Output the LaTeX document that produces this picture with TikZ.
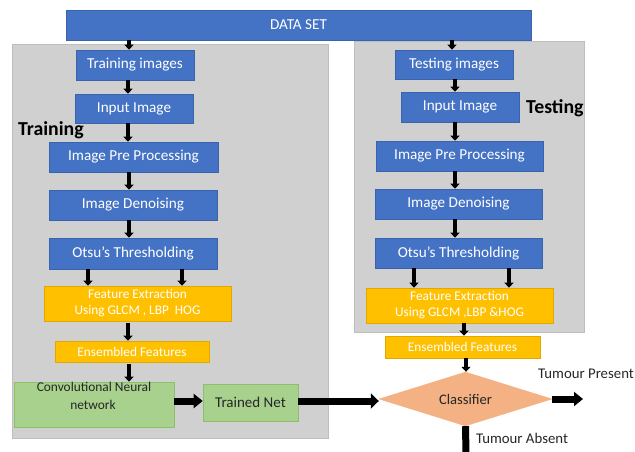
\documentclass[tikz,border=0pt]{standalone}
\usepackage{fontspec}
\setmainfont{Carlito}
\usetikzlibrary{shapes.geometric,arrows.meta}
\definecolor{bblue}{HTML}{4472C4}
\definecolor{bblueb}{HTML}{3A63AD}
\definecolor{byel}{HTML}{FFC000}
\definecolor{byelb}{HTML}{E0A800}
\definecolor{bgreen}{HTML}{A9D18E}
\definecolor{bgreenb}{HTML}{8CC06C}
\definecolor{bsal}{HTML}{F4B183}
\definecolor{panel}{HTML}{D0D0D0}
\definecolor{panelb}{HTML}{BEBEBE}
\definecolor{dtext}{HTML}{262626}
\tikzset{
  bbox/.style={draw=bblueb, fill=bblue, text=white, inner sep=0pt, line width=0.6pt, font=\fontsize{15.2}{17}\selectfont},
  ybox/.style={draw=byelb, fill=byel, text=white, inner sep=0pt, line width=0.6pt, font=\fontsize{13.3}{16}\selectfont, align=center},
  gbox/.style={draw=bgreenb, fill=bgreen, text=dtext, inner sep=0pt, line width=0.6pt, font=\fontsize{15}{17}\selectfont, align=center},
  arr/.style={line width=3.2pt, -{Triangle[width=9pt,length=5pt]}},
  bigarr/.style={line width=7pt, -{Triangle[width=15pt,length=8pt]}},
  lbl/.style={font=\fontsize{14.8}{17}\selectfont, text=dtext, inner sep=0pt},
  sect/.style={font=\bfseries\fontsize{19.8}{22}\selectfont, inner sep=0pt}
}
\begin{document}
\begin{tikzpicture}[x=1pt,y=-1pt]
\useasboundingbox (0,0) rectangle (635,452);
% panels
\draw[panelb, fill=panel, line width=0.8pt] (12,44) rectangle (328,438);
\draw[panelb, fill=panel, line width=0.8pt] (354,41) rectangle (584,332);
% dataset
\node[bbox, minimum width=465pt, minimum height=30pt] (ds) at (298.5,25) {DATA SET};
% left column
\node[bbox, minimum width=118pt, minimum height=30pt] (ti) at (135,65) {Training images};
\node[bbox, minimum width=118pt, minimum height=29pt] (ii) at (134,108.5) {Input Image};
\node[bbox, minimum width=169pt, minimum height=30pt] (ipp) at (133.5,157) {Image Pre Processing};
\node[bbox, minimum width=168pt, minimum height=30pt] (idn) at (133,205) {Image Denoising};
\node[bbox, minimum width=168pt, minimum height=31pt] (ot) at (133,253.5) {Otsu's Thresholding};
\node[ybox, minimum width=187pt, minimum height=35pt] (fe) at (137.5,303.5) {Feature Extraction\\Using GLCM , LBP\ \ HOG};
\node[ybox, minimum width=154pt, minimum height=21pt] (ef) at (132,351.5) {Ensembled Features};
\node[gbox, minimum width=160pt, minimum height=45pt] (cnn) at (94,404.5) {};
\node[lbl, font=\fontsize{13.4}{15}\selectfont] (cnnt1) at (94,387) {Convolutional Neural};
\node[lbl, font=\fontsize{13.4}{15}\selectfont] (cnnt2) at (93,404.5) {network};
\node[gbox, minimum width=95pt, minimum height=37pt] (tn) at (250.5,402.5) {Trained Net};
\node[sect, anchor=west] (trl) at (18,130) {Training};
% right column
\node[bbox, minimum width=118pt, minimum height=29pt] (tsi) at (454,64.5) {Testing images};
\node[bbox, minimum width=118pt, minimum height=30pt] (rii) at (460,107) {Input Image};
\node[bbox, minimum width=167pt, minimum height=30pt] (ripp) at (459.5,156) {Image Pre Processing};
\node[bbox, minimum width=167pt, minimum height=30pt] (rid) at (458.5,204) {Image Denoising};
\node[bbox, minimum width=167pt, minimum height=30pt] (rot) at (458.5,253) {Otsu's Thresholding};
\node[ybox, minimum width=187pt, minimum height=35pt] (rfe) at (459.5,305.5) {Feature Extraction\\Using GLCM ,LBP \&HOG};
\node[ybox, minimum width=155pt, minimum height=22pt] (ref) at (462.5,347) {Ensembled Features};
\node[diamond, fill=bsal, draw=bsal, minimum width=173pt, minimum height=54pt, inner sep=0pt, text=dtext, font=\fontsize{14.6}{17}\selectfont, aspect=3.2] (cls) at (465.5,399) {Classifier};
\node[sect, anchor=west] (tsl) at (526,108) {Testing};
\coordinate (tp) at (583,399);
\coordinate (ta) at (466,453);
\node[lbl] (tpl) at (586,374) {Tumour Present};
\node[lbl] (tal) at (522,438) {Tumour Absent};
% left arrows
\draw[arr] (ds.south -| 129,0) -- (ti.north -| 129,0);
\draw[arr] (ti.south -| 128,0) -- (ii.north -| 128,0);
\draw[arr] (ii.south -| 128,0) -- (ipp.north -| 128,0);
\draw[arr] (ipp.south -| 129,0) -- (idn.north -| 129,0);
\draw[arr] (idn.south -| 129,0) -- (ot.north -| 129,0);
\draw[arr] (ot.south -| 88,0) -- (fe.north -| 88,0);
\draw[arr] (ot.south -| 182,0) -- (fe.north -| 182,0);
\draw[arr] ([yshift=-2pt]fe.south -| 128,0) -- (ef.north -| 128,0);
\draw[arr] ([yshift=-2pt]ef.south -| 129,0) -- (cnn.north -| 129,0);
\draw[line width=7pt, -{Triangle[width=14pt,length=9pt]}] (cnn.east |- 0,401) -- (tn.west |- 0,401);
\draw[bigarr] (tn.east |- 0,401) -- (cls.west |- 0,401);
% right arrows
\draw[arr] (ds.south -| 452,0) -- (tsi.north -| 452,0);
\draw[arr] (tsi.south -| 455,0) -- (rii.north -| 455,0);
\draw[arr] (rii.south -| 455,0) -- (ripp.north -| 455,0);
\draw[arr] (ripp.south -| 455,0) -- (rid.north -| 455,0);
\draw[arr] (rid.south -| 455,0) -- (rot.north -| 455,0);
\draw[arr] (rot.south -| 414,0) -- (rfe.north -| 414,0);
\draw[arr] (rot.south -| 509,0) -- (rfe.north -| 509,0);
\draw[arr] (rfe.south -| 464,0) -- (ref.north -| 464,0);
\draw[arr] (ref.south -| 466,0) -- (cls.north -| 466,0);
\draw[line width=7pt, -{Triangle[width=14pt,length=9pt]}] (cls.east) -- (tp);
\draw[line width=7pt] (cls.south) -- (ta);
\end{tikzpicture}
\end{document}
